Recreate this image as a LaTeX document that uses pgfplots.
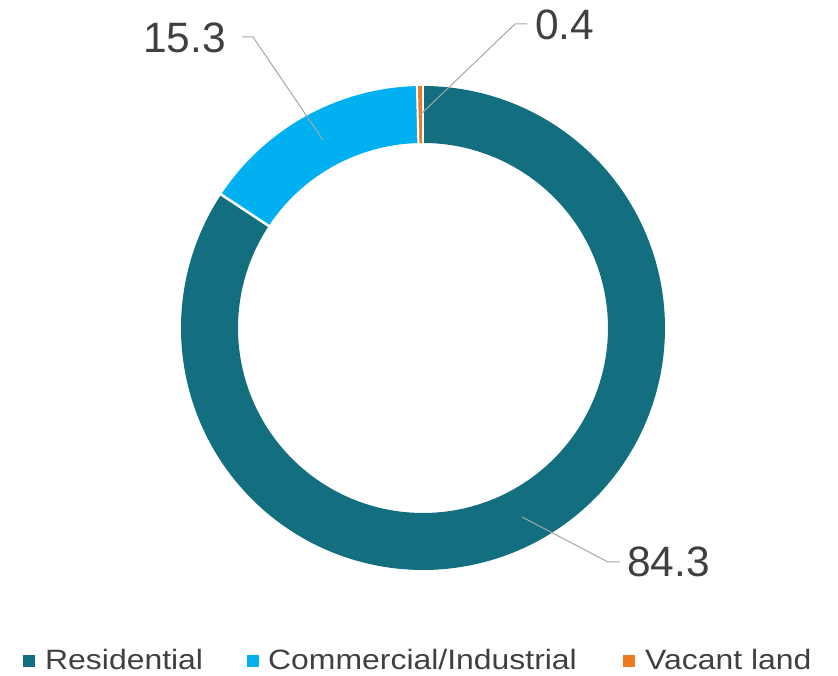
\documentclass[border=0pt]{standalone}
\usepackage{fontspec}
\setmainfont{Liberation Sans}
\usepackage{pgfplots}
\usepackage{pgfplotstable}
\pgfplotsset{compat=1.18}
\definecolor{resi}{HTML}{136F80}
\definecolor{comm}{HTML}{00B0F0}
\definecolor{vac}{HTML}{EE7A1F}
\definecolor{txt}{HTML}{404040}
\definecolor{lead}{HTML}{A6A6A6}

\pgfplotstableread{
cat value
Residential 84.3
Commercial 15.3
Vacant 0.4
}\shares

\begin{document}
\begin{tikzpicture}
\pgfplotstablegetelem{0}{value}\of\shares \let\vA\pgfplotsretval
\pgfplotstablegetelem{1}{value}\of\shares \let\vB\pgfplotsretval
\pgfplotstablegetelem{2}{value}\of\shares \let\vC\pgfplotsretval
\pgfmathsetmacro{\aB}{90-3.6*\vA}
\pgfmathsetmacro{\aC}{\aB-3.6*\vB}
\pgfmathsetmacro{\aD}{\aC-3.6*\vC}
\begin{axis}[width=838pt,height=676pt,scale only axis,
  xmin=0,xmax=838,ymin=0,ymax=676,hide axis,clip=false]
\path (rel axis cs:0,0) rectangle (rel axis cs:1,1);
% ring slices (centre 423,348; mid radius 213.5; thickness 57)
\addplot[resi, line width=57pt, domain=\aB:90, samples=300, variable=\t]
  ({423+213.5*cos(\t)},{348+213.5*sin(\t)});
\addplot[comm, line width=57pt, domain=\aC:\aB, samples=80, variable=\t]
  ({423+213.5*cos(\t)},{348+213.5*sin(\t)});
\addplot[vac, line width=57pt, domain=\aD:\aC, samples=5, variable=\t]
  ({423+213.5*cos(\t)},{348+213.5*sin(\t)});
% white separators
\addplot[white, line width=2pt, domain=182:246, samples=2, variable=\r]
  ({423+\r*cos(90)},{348+\r*sin(90)});
\addplot[white, line width=2.5pt, domain=182:246, samples=2, variable=\r]
  ({423+\r*cos(\aB)},{348+\r*sin(\aB)});
\addplot[white, line width=2pt, domain=182:246, samples=2, variable=\r]
  ({423+\r*cos(\aC)},{348+\r*sin(\aC)});
% leader lines and labels
\draw[lead, line width=1pt] (axis cs:522,159) -- (axis cs:608,114) -- (axis cs:620,114);
\node[anchor=west, inner sep=0, text=txt, font=\fontsize{42.5}{42.5}\selectfont] at (axis cs:627,114) {84.3};
\draw[lead, line width=1pt] (axis cs:323,536) -- (axis cs:253,639) -- (axis cs:242,639);
\node[anchor=east, inner sep=0, text=txt, font=\fontsize{42.5}{42.5}\selectfont] at (axis cs:226,638) {15.3};
\draw[lead, line width=1pt] (axis cs:420,561) -- (axis cs:515,652) -- (axis cs:527,652);
\node[anchor=west, inner sep=0, text=txt, font=\fontsize{42.5}{42.5}\selectfont] at (axis cs:535,651) {0.4};
% legend
\fill[resi] (axis cs:23,9) rectangle (axis cs:35,21);
\node[anchor=base west, inner sep=0, text=txt, font=\fontsize{28}{28}\selectfont] at (axis cs:45,6) {\scalebox{1.14}[1]{Residential}};
\fill[comm] (axis cs:247,9) rectangle (axis cs:259,21);
\node[anchor=base west, inner sep=0, text=txt, font=\fontsize{28}{28}\selectfont] at (axis cs:268,6) {\scalebox{1.14}[1]{Commercial/Industrial}};
\fill[vac] (axis cs:623,9) rectangle (axis cs:635,21);
\node[anchor=base west, inner sep=0, text=txt, font=\fontsize{28}{28}\selectfont] at (axis cs:645,6) {\scalebox{1.14}[1]{Vacant land}};
\end{axis}
\end{tikzpicture}
\end{document}
